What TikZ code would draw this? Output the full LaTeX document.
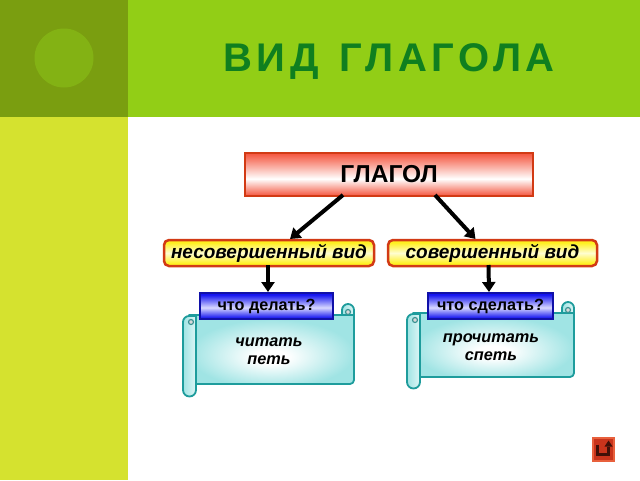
\documentclass[tikz,border=0pt]{standalone}
\usepackage{fontspec}
\setmainfont{Liberation Sans}
\usetikzlibrary{arrows.meta,calc}
\newfontfamily\titlefont[LetterSpace=11.5,WordSpace=1.3]{Liberation Sans}
\definecolor{topgreen}{HTML}{92CE16}
\definecolor{darkgreen}{HTML}{7A9E10}
\definecolor{circgreen}{HTML}{83B214}
\definecolor{sidelime}{HTML}{D5E22F}
\definecolor{titlegreen}{HTML}{0F7F1F}
\definecolor{redb}{HTML}{D23A14}
\definecolor{redf}{HTML}{F4533C}
\definecolor{yelf}{HTML}{FFF020}
\definecolor{yelm}{HTML}{FFFDD0}
\definecolor{blueb}{HTML}{1010A8}
\definecolor{bluef}{HTML}{1414F0}
\definecolor{bluem}{HTML}{D8D8FF}
\definecolor{tealb}{HTML}{1E9C9C}
\definecolor{tealf}{HTML}{A0E4E4}
\definecolor{btnb}{HTML}{E8603C}
\definecolor{btnf}{HTML}{C8341C}
\definecolor{btnu}{HTML}{401008}
\pgfdeclareverticalshading{redbar}{100bp}{color(0bp)=(redf); color(25bp)=(redf); color(45bp)=(white); color(75bp)=(redf); color(100bp)=(redf)}
\pgfdeclareverticalshading{yelbar}{100bp}{color(0bp)=(yelf); color(30bp)=(yelf); color(50bp)=(yelm); color(70bp)=(yelf); color(100bp)=(yelf)}
\pgfdeclareverticalshading{bluebar}{100bp}{color(0bp)=(bluef); color(27bp)=(bluef); color(47bp)=(bluem); color(72bp)=(bluef); color(100bp)=(bluef)}
\pgfdeclareradialshading{scrollglow}{\pgfpoint{0bp}{-6bp}}{color(0bp)=(white); color(5bp)=(white); color(25bp)=(tealf); color(50bp)=(tealf)}
\tikzset{
  x=1pt,y=-1pt,
  every node/.style={inner sep=0pt,outer sep=0pt},
  verbbox/.style={draw=redb,line width=2.5pt,shading=redbar,
    minimum width=288pt,minimum height=43pt,anchor=north west,font=\bfseries\fontsize{24.5}{27}\selectfont},
  kindbox/.style={draw=redb,line width=2.5pt,rounded corners=5pt,shading=yelbar,
    minimum height=26pt,anchor=north west,font=\bfseries\itshape\fontsize{19}{22}\selectfont},
  askbox/.style={draw=blueb,line width=2.5pt,shading=bluebar,
    minimum height=26pt,anchor=north west,font=\bfseries\fontsize{16.2}{19}\selectfont},
  scrollfill/.style={draw=tealb,line width=1.8pt,line join=round,shading=scrollglow},
  rollfill/.style={draw=tealb,line width=1.8pt,line join=round,left color=tealf,right color=tealf!35},
  curlmark/.style={draw=tealb!70!gray,line width=1.2pt,fill=gray!30},
  wordnode/.style={align=center,font=\bfseries\itshape\fontsize{16.3}{18}\selectfont},
  link/.style={line width=4pt,-{Triangle[length=10pt,width=13pt]}},
}
\newcommand{\scrollshape}[5]{% left, top, right, bottom, roll bottom
  \path[scrollfill] (#1+6,#2) -- (#3,#2) -- (#3,#4-4) arc[start angle=0,end angle=90,radius=4] -- (#1+6,#4) -- cycle;
  \path[rollfill] (#3-12,#2) -- (#3-12,#2-5) arc[start angle=180,end angle=360,radius=6] -- (#3,#2) -- cycle;
  \path[curlmark] (#3-6,#2-3) circle[radius=2.5];
  \path[rollfill] (#1,#2+7) arc[start angle=180,end angle=270,radius=6] -- (#1+13,#2+1) -- (#1+13,#5-6) arc[start angle=0,end angle=180,radius=6.5] -- cycle;
  \path[curlmark] (#1+8,#2+7) circle[radius=2.5];
}
\begin{document}
\begin{tikzpicture}
\useasboundingbox (0,0) rectangle (640,480);
\fill[white] (0,0) rectangle (640,480);
\fill[topgreen] (0,0) rectangle (640,117);
\fill[sidelime] (0,117) rectangle (128,480);
\fill[darkgreen] (0,0) rectangle (128,117);
\fill[circgreen] (64,58) circle[radius=29.5];
\node[text=titlegreen,font=\titlefont\bfseries\fontsize{40}{44}\selectfont] (title) at (389,62) {ВИД ГЛАГОЛА};

\scrollshape{183}{315}{354}{384}{396}
\scrollshape{407}{313}{574}{377}{388}

\node[verbbox] (verb) at (245,153) {\raisebox{-3pt}{ГЛАГОЛ}};
\node[kindbox,minimum width=210pt] (imp) at (164,240) {\raisebox{-1pt}{несовершенный вид}};
\node[kindbox,minimum width=209pt] (perf) at (388,240) {\raisebox{-1pt}{совершенный вид}};
\node[askbox,minimum width=133pt] (ask1) at (200,293) {\raisebox{-1pt}{что делать?}};
\node[askbox,minimum width=125pt] (ask2) at (428,293) {\raisebox{-1pt}{что сделать?}};
\node[wordnode] (w1) at (269,351) {читать\\петь};
\node[wordnode] (w2) at (491,347) {прочитать\\спеть};

\draw[link] ($(verb.south)+(-46,-1)$) -- ($(imp.north)+(21,-1)$);
\draw[link] ($(verb.south)+(46,-1)$) -- ($(perf.north)+(-17,-1)$);
\draw[link] ($(imp.south)+(-1,-1)$) -- ($(ask1.north)+(1.5,-1)$);
\draw[link] ($(perf.south)+(-4,-1)$) -- ($(ask2.north)+(-1.5,-1)$);

\node[draw=btnb,line width=2pt,fill=btnf,minimum width=21pt,minimum height=23pt] (btn) at (603.5,449.5) {};
\draw[line width=3.5pt,btnu] ($(btn.center)+(-6,-5)$) -- ($(btn.center)+(-6,5)$) -- ($(btn.center)+(5,5)$) -- ($(btn.center)+(5,-3)$);
\fill[btnu] ($(btn.center)+(5,-9)$) -- ($(btn.center)+(9,-3)$) -- ($(btn.center)+(1,-3)$) -- cycle;
\end{tikzpicture}
\end{document}
